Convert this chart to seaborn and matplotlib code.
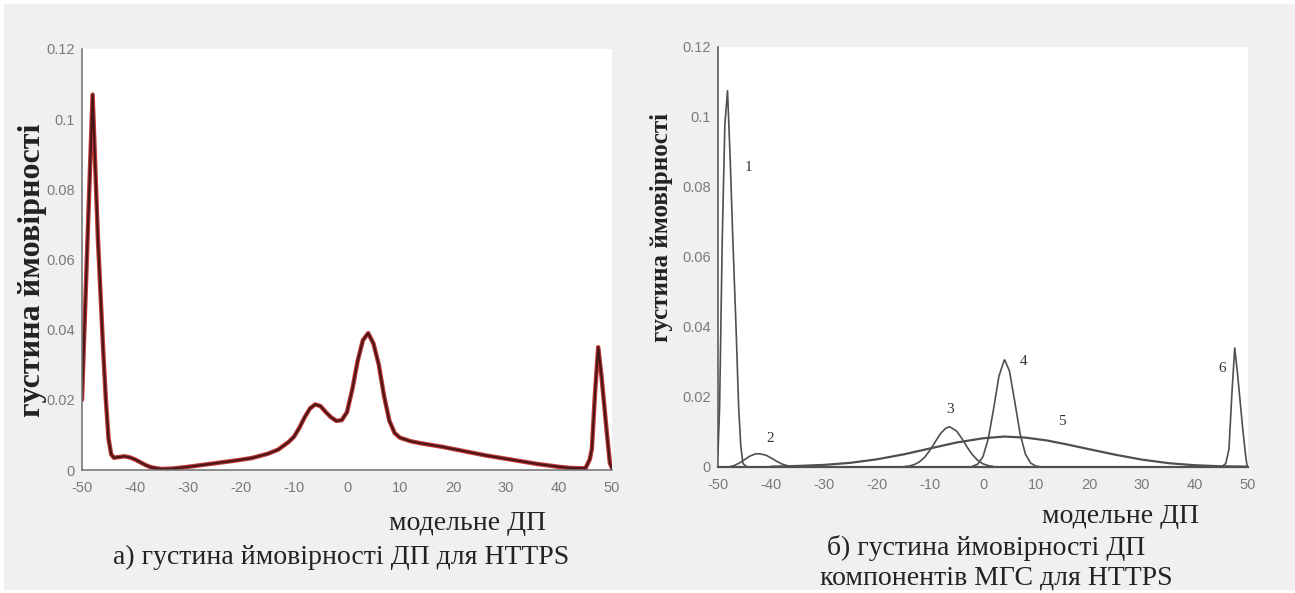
import numpy as np
import pandas as pd
import matplotlib
matplotlib.use("Agg")
import matplotlib.pyplot as plt
from matplotlib.patches import Rectangle
import seaborn as sns

# ---------------- data ----------------
total_x = [-50, -49, -48, -47, -46, -45.5, -45, -44.5, -44, -43, -42, -41, -40, -39, -38,
           -37, -36, -35, -33, -30, -27, -24, -21, -18, -15, -13, -11, -10, -9, -8, -7,
           -6, -5, -4, -3, -2, -1, 0, 1, 2, 3, 4, 5, 6, 7, 8, 9, 10, 12, 14, 16, 18, 20,
           22, 24, 26, 28, 30, 32, 34, 36, 38, 40, 42, 44, 45, 45.8, 46.2, 46.8, 47.4,
           48, 48.5, 49, 49.6, 50]
total_y = [0.020, 0.064, 0.107, 0.066, 0.034, 0.020, 0.009, 0.0045, 0.0035, 0.0037, 0.0039,
           0.0036, 0.0030, 0.0022, 0.0014, 0.0008, 0.0005, 0.0003, 0.0004, 0.0009, 0.0015,
           0.0021, 0.0027, 0.0034, 0.0046, 0.0058, 0.0080, 0.0095, 0.0120, 0.0150, 0.0175,
           0.0187, 0.0182, 0.0165, 0.0150, 0.0140, 0.0142, 0.0165, 0.0230, 0.0310, 0.0370,
           0.0390, 0.0360, 0.0300, 0.0210, 0.0140, 0.0105, 0.0092, 0.0082, 0.0076, 0.0071,
           0.0066, 0.0060, 0.0054, 0.0048, 0.0042, 0.0037, 0.0032, 0.0027, 0.0022, 0.0017,
           0.0013, 0.0009, 0.0006, 0.0005, 0.0005, 0.0030, 0.0060, 0.0220, 0.0350, 0.0270,
           0.0190, 0.0110, 0.0020, 0.0005]

c1_x = [-50, -49.7, -49.2, -48.7, -48.2, -47.7, -47.2, -46.6, -46.1, -45.7, -45.3, -44.5]
c1_y = [0.004, 0.017, 0.065, 0.098, 0.1075, 0.088, 0.065, 0.040, 0.017, 0.006, 0.001, 0.0]

c2_x = [-48, -47, -46, -45, -44, -43, -42.3, -41, -40, -39, -38, -37, -36]
c2_y = [0.0, 0.0004, 0.0011, 0.0021, 0.0031, 0.0037, 0.0038, 0.0034, 0.0026, 0.0017,
        0.0009, 0.0004, 0.0001]

c3_x = [-15, -14, -13, -12, -11, -10, -9, -8, -7, -6.3, -5, -4, -3, -2, -1, 0, 1, 2]
c3_y = [0.0001, 0.00026, 0.00066, 0.00145, 0.0028, 0.0048, 0.0072, 0.0096, 0.0111, 0.0115,
        0.0103, 0.0082, 0.0057, 0.0035, 0.0019, 0.0009, 0.0004, 0.00014]

c4_x = [-2, -1, 0, 1, 2, 3, 4, 4.1, 5, 6, 7, 8, 9, 10, 11]
c4_y = [0.0002, 0.0008, 0.0030, 0.0081, 0.0166, 0.0259, 0.0305, 0.0306, 0.0274, 0.0186,
        0.0095, 0.0037, 0.0011, 0.00025, 0.00005]

c5_x = [-40, -35, -30, -25, -20, -15, -10, -5, 0, 4, 8, 12, 16, 20, 25, 30, 35, 40, 45, 50]
c5_y = [0.0001, 0.0003, 0.0006, 0.0012, 0.0022, 0.0036, 0.0053, 0.0070, 0.0082, 0.0087,
        0.0084, 0.0076, 0.0064, 0.0051, 0.0035, 0.0021, 0.0011, 0.0005, 0.0002, 0.0001]

c6_x = [45, 45.8, 46.4, 47.0, 47.5, 48.0, 48.5, 49.0, 49.5, 49.8, 50]
c6_y = [0.0, 0.001, 0.005, 0.022, 0.034, 0.027, 0.019, 0.011, 0.004, 0.0005, 0.0]

comp_labels = ["1", "2", "3", "4", "5", "6"]
comp_label_x = [-44.2, -40.1, -6.3, 7.7, 14.8, 45.1]
comp_label_y = [0.0857, 0.0082, 0.0163, 0.0300, 0.0130, 0.0280]

x_ticks = [-50, -40, -30, -20, -10, 0, 10, 20, 30, 40, 50]
y_ticks = [0, 0.02, 0.04, 0.06, 0.08, 0.10, 0.12]
y_tick_labels = ["0", "0.02", "0.04", "0.06", "0.08", "0.1", "0.12"]

ylabel_text = "густина ймовірності"
xlabel_text = "модельне ДП"
caption_a = "а) густина ймовірності ДП для HTTPS"
caption_b1 = "б) густина ймовірності ДП"
caption_b2 = "компонентів МГС для HTTPS"

# ---------------- figure ----------------
sns.set_theme(style="white")
plt.rcParams["font.family"] = ["Liberation Sans", "DejaVu Sans"]
plt.rcParams["axes.unicode_minus"] = False

W, H = 1295, 593
fig = plt.figure(figsize=(W / 100, H / 100), dpi=100)
fig.patch.set_facecolor("white")
bg = Rectangle((4 / W, 3 / H), 1 - 4 / W, 1 - 7 / H, transform=fig.transFigure,
               facecolor="#f0f0f0", edgecolor="none", zorder=-10)
fig.add_artist(bg)

ax1 = fig.add_axes([82 / W, 1 - 470 / H, 530 / W, 421 / H])
ax2 = fig.add_axes([718 / W, 1 - 467 / H, 530 / W, 420 / H])

serif = ["Liberation Serif", "DejaVu Serif"]
tick_color = "#7a7a7a"
spine_color = "#6e6e6e"

# left panel: total density
df_total = pd.DataFrame({"x": total_x, "y": total_y})
sns.lineplot(data=df_total, x="x", y="y", ax=ax1, color="#c23a3a", linewidth=3.2, sort=False)
sns.lineplot(data=df_total, x="x", y="y", ax=ax1, color="#4a1616", linewidth=1.6, sort=False)

# right panel: components
comps = [(c1_x, c1_y), (c2_x, c2_y), (c3_x, c3_y), (c4_x, c4_y), (c5_x, c5_y), (c6_x, c6_y)]
for i, (cx, cy) in enumerate(comps):
    df_c = pd.DataFrame({"x": cx, "y": cy})
    sns.lineplot(data=df_c, x="x", y="y", ax=ax2, color="#4f4f4f",
                 linewidth=1.6 if i == 4 else 1.2, sort=False)
for lab, lx, ly in zip(comp_labels, comp_label_x, comp_label_y):
    ax2.text(lx, ly, lab, ha="center", va="center", fontsize=11,
             family=serif, color="#333333")

for ax in (ax1, ax2):
    ax.set_facecolor("white")
    ax.set_xlim(-50, 50)
    ax.set_ylim(0, 0.12)
    ax.set_xticks(x_ticks)
    ax.set_xticklabels([str(t) for t in x_ticks])
    ax.set_yticks(y_ticks)
    ax.set_yticklabels(y_tick_labels)
    ax.tick_params(direction="in", length=3.5, width=0.8, colors=tick_color,
                   labelsize=10.5, pad=5)
    ax.tick_params(axis="x", pad=8)
    for s in ("top", "right"):
        ax.spines[s].set_visible(False)
    for s in ("left", "bottom"):
        ax.spines[s].set_color(spine_color)
        ax.spines[s].set_linewidth(1.1)
    ax.set_xlabel(xlabel_text, family=serif, fontsize=20, color="#222222")
    ax.xaxis.label.set_va("center")

ax2.spines["bottom"].set_color("#505050")
ax2.spines["bottom"].set_linewidth(1.6)
ax2.spines["left"].set_color("#505050")

ax1.set_ylabel(ylabel_text, family=serif, fontsize=23, fontweight="bold", color="#222222")
ax1.yaxis.label.set_va("center")
ax1.yaxis.set_label_coords(-0.094, 0.475)
ax1.xaxis.set_label_coords(0.728, -0.126)

ax2.set_ylabel(ylabel_text, family=serif, fontsize=18, fontweight="bold", color="#222222")
ax2.yaxis.label.set_va("center")
ax2.yaxis.set_label_coords(-0.1075, 0.571)
ax2.xaxis.set_label_coords(0.760, -0.119)

fig.text(341 / W, 1 - 557 / H, caption_a, family=serif, fontsize=20,
         ha="center", va="center", color="#222222")
fig.text(986 / W, 1 - 548 / H, caption_b1, family=serif, fontsize=20,
         ha="center", va="center", color="#222222")
fig.text(996 / W, 1 - 578 / H, caption_b2, family=serif, fontsize=20,
         ha="center", va="center", color="#222222")

fig.savefig("out.png", dpi=100, facecolor=fig.get_facecolor())
